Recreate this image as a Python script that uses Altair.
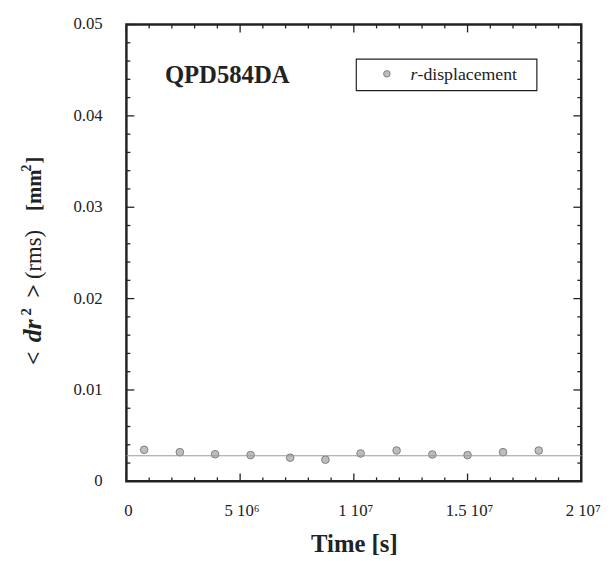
import altair as alt
import pandas as pd

# ---- data ----
time_s = [0.78e6, 2.35e6, 3.90e6, 5.46e6, 7.20e6, 8.75e6,
          10.30e6, 11.88e6, 13.45e6, 15.00e6, 16.56e6, 18.13e6]
dr2 = [0.00345, 0.00319, 0.00297, 0.00287, 0.00259, 0.00237,
       0.00305, 0.00337, 0.00294, 0.00287, 0.00319, 0.00337]
fit_level = [0.0028]

x_major = [0, 5e6, 1e7, 1.5e7, 2e7]
x_minor = [1e6, 2e6, 3e6, 4e6, 6e6, 7e6, 8e6, 9e6, 11e6, 12e6, 13e6, 14e6,
           16e6, 17e6, 18e6, 19e6]
y_major = [0, 0.01, 0.02, 0.03, 0.04, 0.05]
y_minor = [0.002, 0.004, 0.006, 0.008, 0.012, 0.014, 0.016, 0.018,
           0.022, 0.024, 0.026, 0.028, 0.032, 0.034, 0.036, 0.038,
           0.042, 0.044, 0.046, 0.048]
x_tick_labels = ["0", "5 10⁶", "1 10⁷", "1.5 10⁷", "2 10⁷"]
y_tick_labels = ["0", "0.01", "0.02", "0.03", "0.04", "0.05"]

W, H = 461, 463
FONT = "Liberation Serif"
INK = "#222222"

xs = alt.Scale(domain=[0, 2e7], nice=False, zero=False)
ys = alt.Scale(domain=[0, 0.05], nice=False, zero=False)


def X(field="t"):
    return alt.X(f"{field}:Q", scale=xs, axis=None)


def Y(field="v"):
    return alt.Y(f"{field}:Q", scale=ys, axis=None)


df = pd.DataFrame({"t": time_s, "v": dr2})

points = alt.Chart(df).mark_point(
    filled=True, shape="circle", size=60, color="#bdbdbd",
    stroke="#777777", strokeWidth=0.9, opacity=1
).encode(x=X(), y=Y())

fit = alt.Chart(pd.DataFrame({"v": fit_level})).mark_rule(
    color="#9a9a9a", strokeWidth=1
).encode(y=Y())


def xticks(vals, length):
    d = pd.DataFrame({"t": vals})
    bot = alt.Chart(d).mark_rule(color=INK, strokeWidth=1.3).encode(
        x=X(), y=alt.value(H), y2=alt.value(H - length))
    top = alt.Chart(d).mark_rule(color=INK, strokeWidth=1.3).encode(
        x=X(), y=alt.value(0), y2=alt.value(length))
    return [bot, top]


def yticks(vals, length):
    d = pd.DataFrame({"v": vals})
    left = alt.Chart(d).mark_rule(color=INK, strokeWidth=1.3).encode(
        y=Y(), x=alt.value(0), x2=alt.value(length))
    right = alt.Chart(d).mark_rule(color=INK, strokeWidth=1.3).encode(
        y=Y(), x=alt.value(W), x2=alt.value(W - length))
    return [left, right]


ticks = xticks(x_major, 8) + xticks(x_minor, 4) + yticks(y_major, 8) + yticks(y_minor, 4)

# tick labels, placed through the scales
xlab = alt.Chart(pd.DataFrame({"t": x_major, "s": x_tick_labels})).mark_text(
    font=FONT, fontSize=17, color=INK, align="center", baseline="alphabetic", dx=2
).encode(x=X(), y=alt.value(H + 35), text="s:N")
ylab = alt.Chart(pd.DataFrame({"v": y_major, "s": y_tick_labels})).mark_text(
    font=FONT, fontSize=17, color=INK, align="right", baseline="middle"
).encode(y=Y(), x=alt.value(-24), text="s:N")

one = pd.DataFrame({"a": [0]})


def txt(s, x, y, size, weight="normal", style="normal", angle=0,
        align="left", baseline="alphabetic"):
    return alt.Chart(one).mark_text(
        text=s, font=FONT, fontSize=size, fontWeight=weight, fontStyle=style,
        angle=angle, align=align, baseline=baseline, color=INK
    ).encode(x=alt.value(x), y=alt.value(y))


OX, OY = 128, 21   # plot origin in page pixels

xtitle = txt("Time [s]", 359 - OX, 556 - OY, 25, "bold", align="center")

# y-axis title built from segments (mixed weights / italics / superscripts)
bx = 41 - OX
sx = bx - 10
ytitle = [
    txt("<", bx, 366 - OY, 24, "bold", angle=270),
    txt("dr", bx, 343 - OY, 26, "bold", "italic", angle=270),
    txt("2", sx, 316 - OY, 15, "bold", angle=270),
    txt(">", bx, 298 - OY, 24, "bold", angle=270),
    txt("(rms)", bx, 279 - OY, 23, "normal", angle=270),
    txt("[mm", bx, 210 - OY, 21, "bold", angle=270),
    txt("2", sx, 170 - OY, 14, "bold", angle=270),
    txt("]", bx, 162 - OY, 21, "bold", angle=270),
]

label = txt("QPD584DA", 167 - OX, 80 - OY, 25, "bold")

legend_box = alt.Chart(one).mark_rect(
    fill="white", stroke=INK, strokeWidth=1.2
).encode(x=alt.value(361 - OX), x2=alt.value(544 - OX),
         y=alt.value(56 - OY), y2=alt.value(88 - OY))
legend_pt = alt.Chart(one).mark_point(
    filled=True, shape="circle", size=44, color="#bdbdbd",
    stroke="#777777", strokeWidth=0.9, opacity=1
).encode(x=alt.value(392 - OX), y=alt.value(71 - OY))
legend_r = txt("r", 416 - OX, 77 - OY, 18, "normal", "italic")
legend_t = txt("-displacement", 423 - OX, 77 - OY, 18, "normal")

chart = alt.layer(
    points, fit, *ticks, xlab, ylab, legend_box, legend_pt, legend_r,
    legend_t, label, xtitle, *ytitle
).properties(
    width=W, height=H,
    background="white",
    autosize=alt.AutoSizeParams(type="none"),
    padding={"left": 120, "top": 13, "right": 20, "bottom": 76},
).configure_view(
    stroke=INK, strokeWidth=2.5
)

chart.save("out.html", embed_options={"renderer": "svg", "actions": False})
